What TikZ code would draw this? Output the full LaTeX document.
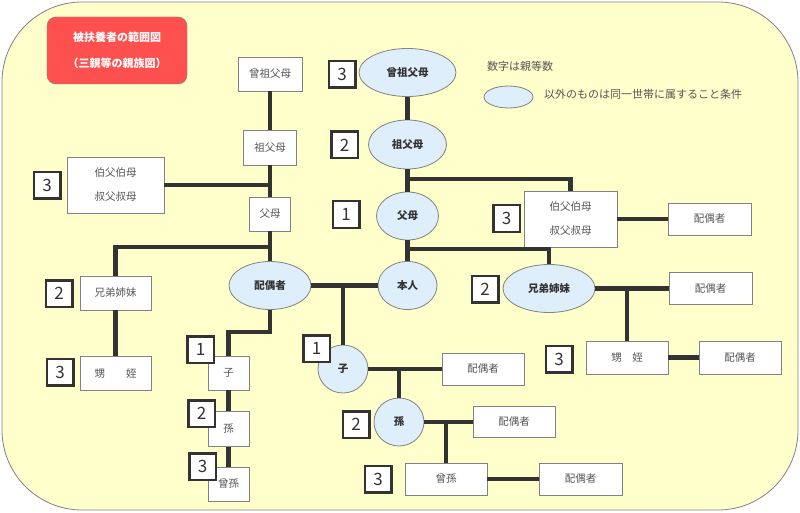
\documentclass[tikz,border=0pt]{standalone}
\usepackage{fontspec}
\setmainfont{Noto Sans CJK JP}
\usepackage{xcolor}
\usetikzlibrary{shapes.geometric}

\definecolor{bgyellow}{RGB}{255,255,204}
\definecolor{hhblue}{RGB}{222,238,250}
\definecolor{titlered}{RGB}{255,80,80}
\definecolor{frame}{RGB}{130,130,130}
\definecolor{textgray}{RGB}{85,85,85}
\definecolor{darktext}{RGB}{51,51,51}
\definecolor{linegray}{RGB}{51,51,51}

\begin{document}
\begin{tikzpicture}
    [x=1pt,y=-1pt,
    member/.style 2 args={draw=frame,line width=0.8pt,fill=white,text=textgray,inner sep=0pt,align=center,
        minimum width=#1,minimum height=#2,font=\fontsize{10.5}{12}\selectfont},
    household/.style 2 args={ellipse,draw=frame,line width=0.8pt,fill=hhblue,text=darktext,inner sep=0pt,
        minimum width=#1,minimum height=#2,font=\bfseries\fontsize{10.5}{12}\selectfont},
    degree/.style={draw=darktext,line width=2.5pt,fill=white,text=darktext,minimum size=26.5pt,inner sep=0pt,
        font=\fontsize{17}{17}\selectfont},
    link/.style={draw=linegray,line width=4.5pt},
    note/.style={text=textgray,anchor=west,inner sep=0pt,font=\fontsize{11}{13}\selectfont}]

\useasboundingbox (0,0) rectangle (800,513);

%draw background and title
\draw[draw=frame,fill=bgyellow,line width=0.8pt,rounded corners=80pt] (2,2) rectangle (798,510);
\node[draw=frame!80!red,fill=titlered,rounded corners=9pt,minimum width=140pt,minimum height=67pt,
    inner sep=0pt,align=center,text=white,font=\bfseries\fontsize{11}{26}\selectfont]
    (title) at (117,50.5) {被扶養者の範囲図\\（三親等の親族図）};

%draw left side relatives
\node[member={64}{34}] (ggpL) at (270,74) {曾祖父母};
\node[member={53}{35}] (gpL) at (270,147.5) {祖父母};
\node[member={97}{56}] (uncL) at (115.5,185) {伯父伯母\\[12pt]叔父叔母};
\node[member={41}{34}] (parL) at (270,214) {父母};
\node[member={71}{34}] (sibL) at (115.5,293) {兄弟姉妹};
\node[member={71}{34}] (nepL) at (115.5,373.5) {甥　　姪};
\node[member={41}{34}] (childL) at (228.5,373) {子};
\node[member={41}{35}] (gcL) at (228.5,429) {孫};
\node[member={41}{34}] (ggcL) at (228.5,484) {曾孫};

%draw household members
\node[household={97}{48}] (ggp) at (407.5,72.5) {曾祖父母};
\node[household={78}{49}] (gp) at (407.5,144.5) {祖父母};
\node[household={62}{48}] (par) at (407.5,216) {父母};
\node[household={59}{48}] (self) at (407.5,285.5) {本人};
\node[household={82}{48}] (spouse) at (270,285.5) {配偶者};
\node[household={92}{48}] (sibR) at (549,288.5) {兄弟姉妹};
\node[household={50}{48}] (child) at (343,369) {子};
\node[household={50}{48}] (gc) at (399,422) {孫};

%draw right side relatives
\node[member={93}{56}] (uncR) at (570.5,219) {伯父伯母\\[12pt]叔父叔母};
\node[member={83}{32}] (uncRSp) at (709.5,219) {配偶者};
\node[member={83}{32}] (sibRSp) at (710.5,288.5) {配偶者};
\node[member={82}{33}] (nepR) at (627,357.5) {甥　姪};
\node[member={82}{33}] (nepRSp) at (740,357.5) {配偶者};
\node[member={82}{32}] (childSp) at (483,369) {配偶者};
\node[member={82}{31}] (gcSp) at (514,422) {配偶者};
\node[member={82}{32}] (ggc) at (446,479) {曾孫};
\node[member={83}{32}] (ggcSp) at (580.5,479) {配偶者};

%junctions
\coordinate (jUncL) at (270,185);
\coordinate (jSibL) at (270,247);
\coordinate (jUncR) at (407.5,179);
\coordinate (jSibR) at (407.5,249);
\coordinate (jChild) at (343,285.5);
\coordinate (jGc) at (399,369);
\coordinate (jGgc) at (446,422);
\coordinate (jNepR) at (627,288.5);

%draw left links
\draw[link] (ggpL) -- (gpL);
\draw[link] (gpL) -- (parL);
\draw[link] (uncL.east) -- (jUncL);
\draw[link] (parL) -- (spouse);
\draw[link] (sibL.north) |- (jSibL);
\draw[link] (sibL) -- (nepL);
\draw[link] (spouse.south) -- ++(0,22) -| (childL.north);
\draw[link] (childL) -- (gcL);
\draw[link] (gcL) -- (ggcL);

%draw middle and right links
\draw[link] (ggp) -- (gp);
\draw[link] (gp) -- (par);
\draw[link] (par) -- (self);
\draw[link] (jUncR) -| (uncR.north);
\draw[link] (jSibR) -| (sibR.north);
\draw[link] (uncR) -- (uncRSp);
\draw[link] (sibR) -- (sibRSp);
\draw[link] (jNepR) -- (nepR);
\draw[link] (nepR) -- (nepRSp);
\draw[link] (spouse) -- (self);
\draw[link] (jChild) -- (child);
\draw[link] (child) -- (childSp);
\draw[link] (jGc) -- (gc);
\draw[link] (gc) -- (gcSp);
\draw[link] (jGgc) -- (ggc);
\draw[link] (ggc) -- (ggcSp);

%draw degree numbers
\node[degree] (dGgp) at (342,74.5) {3};
\node[degree] (dGp) at (344.5,145) {2};
\node[degree] (dPar) at (346,214.5) {1};
\node[degree] (dUncL) at (47,185.5) {3};
\node[degree] (dSibL) at (59,293.5) {2};
\node[degree] (dNepL) at (60,372) {3};
\node[degree] (dChildL) at (200.5,349.5) {1};
\node[degree] (dGcL) at (201.5,413.5) {2};
\node[degree] (dGgcL) at (202.5,466.5) {3};
\node[degree] (dChild) at (316.5,348.5) {1};
\node[degree] (dGc) at (356,424.5) {2};
\node[degree] (dGgc) at (378,479) {3};
\node[degree] (dUncR) at (506.5,218.5) {3};
\node[degree] (dSibR) at (485,289) {2};
\node[degree] (dNepR) at (559,359) {3};

%draw legend
\node[note] (noteNum) at (487,66) {数字は親等数};
\node[ellipse,draw=frame,line width=0.8pt,fill=hhblue,minimum width=49pt,minimum height=22pt,inner sep=0pt]
    (legend) at (508.5,97) {};
\node[note] (noteHh) at (544,94) {以外のものは同一世帯に属すること条件};

\end{tikzpicture}
\end{document}
